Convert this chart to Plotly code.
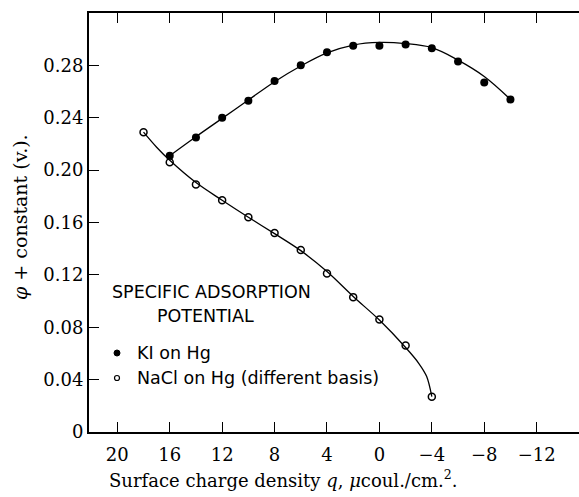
import plotly.graph_objects as go

# ---- data ----
ki_q = [16, 14, 12, 10, 8, 6, 4, 2, 0, -2, -4, -6, -8, -10]
ki_phi = [0.211, 0.225, 0.240, 0.253, 0.268, 0.280, 0.290, 0.295, 0.295,
          0.296, 0.293, 0.283, 0.267, 0.254]

nacl_q = [18, 16, 14, 12, 10, 8, 6, 4, 2, 0, -2, -4]
nacl_phi = [0.229, 0.206, 0.189, 0.177, 0.164, 0.152, 0.139, 0.121, 0.103,
            0.086, 0.066, 0.027]

# smooth curves drawn through the points
ki_curve_q = [16, 14, 12, 10, 8, 6, 4, 2, 0, -2, -4, -6, -8, -10]
ki_curve_phi = [0.211, 0.2255, 0.2395, 0.2535, 0.2675, 0.2795, 0.2895, 0.2955,
                0.2975, 0.2966, 0.2935, 0.2840, 0.2715, 0.2540]

nacl_curve_q = [18, 17, 16, 14, 12, 10, 8, 6, 4, 2, 0, -2, -3, -3.6, -4]
nacl_curve_phi = [0.229, 0.2175, 0.2075, 0.1905, 0.1770, 0.1640, 0.1515, 0.1385,
                  0.1225, 0.1035, 0.0855, 0.0645, 0.0525, 0.0425, 0.027]

x_ticks = [20, 16, 12, 8, 4, 0, -4, -8, -12]
x_ticktext = ["20", "16", "12", "8", "4", "0", "\u22124", "\u22128", "\u221212"]
y_ticks = [0, 0.04, 0.08, 0.12, 0.16, 0.20, 0.24, 0.28]
y_ticktext = ["0", "0.04", "0.08", "0.12", "0.16", "0.20", "0.24", "0.28"]

x_title = "Surface charge density <i>q</i>, <i>\u03bc</i>coul./cm.<sup>2</sup>."
y_title = "<i>\u03c6</i> + constant (v.)."

W, H = 579, 497
L, R, T, B = 89, 0, 13, 65
PW, PH = W - L - R, H - T - B


def px(x):
    return (x - L) / PW


def py(y):
    return (H - B - y) / PH


fig = go.Figure()
fig.add_trace(go.Scatter(x=ki_curve_q, y=ki_curve_phi, mode="lines",
                         line=dict(color="black", width=1.3, shape="spline", smoothing=1),
                         showlegend=False, hoverinfo="skip"))
fig.add_trace(go.Scatter(x=nacl_curve_q, y=nacl_curve_phi, mode="lines",
                         line=dict(color="black", width=1.3, shape="spline", smoothing=0.9),
                         showlegend=False, hoverinfo="skip"))
fig.add_trace(go.Scatter(x=ki_q, y=ki_phi, mode="markers", name="KI on Hg",
                         marker=dict(symbol="circle", size=8, color="black"),
                         showlegend=False))
fig.add_trace(go.Scatter(x=nacl_q, y=nacl_phi, mode="markers",
                         name="NaCl on Hg (different basis)",
                         marker=dict(symbol="circle-open", size=7, color="black",
                                     line=dict(width=1.5, color="black")),
                         showlegend=False))

serif = "DejaVu Serif"
sans = "DejaVu Sans"
LEG = 17.5

fig.update_layout(
    width=W, height=H,
    margin=dict(l=L, r=R, t=T, b=B, pad=0),
    paper_bgcolor="white", plot_bgcolor="white",
    font=dict(family=serif, color="black"),
    xaxis=dict(range=[22.16, -15.23], tickvals=x_ticks, ticktext=x_ticktext,
               ticks="inside", ticklen=10, tickwidth=1, tickcolor="black",
               showline=True, linewidth=2, linecolor="black", mirror="ticks",
               showgrid=False, zeroline=False, ticklabelstandoff=5,
               tickfont=dict(family=serif, size=18, color="black")),
    yaxis=dict(range=[0, 0.32], tickvals=y_ticks, ticktext=y_ticktext,
               ticks="inside", ticklen=10, tickwidth=1, tickcolor="black",
               showline=True, linewidth=2, linecolor="black", mirror=False,
               showgrid=False, zeroline=False,
               tickfont=dict(family=serif, size=18, color="black")),
)

ann = []
ann.append(dict(text=x_title,
                x=px(283.5), y=py(479), xref="paper", yref="paper",
                xanchor="center", yanchor="middle", showarrow=False,
                font=dict(family=serif, size=18, color="black")))
ann.append(dict(text=y_title,
                x=px(20), y=py(217), xref="paper", yref="paper", textangle=-90,
                xanchor="center", yanchor="middle", showarrow=False,
                font=dict(family=serif, size=19, color="black")))
ann.append(dict(text="SPECIFIC ADSORPTION", x=px(110), y=py(292), xref="paper", yref="paper",
                xanchor="left", yanchor="middle", showarrow=False,
                font=dict(family=sans, size=LEG, color="black")))
ann.append(dict(text="POTENTIAL", x=px(205), y=py(316), xref="paper", yref="paper",
                xanchor="center", yanchor="middle", showarrow=False,
                font=dict(family=sans, size=LEG, color="black")))
ann.append(dict(text="KI on Hg", x=px(135), y=py(353), xref="paper", yref="paper",
                xanchor="left", yanchor="middle", showarrow=False,
                font=dict(family=sans, size=LEG, color="black")))
ann.append(dict(text="NaCl on Hg (different basis)", x=px(135), y=py(378),
                xref="paper", yref="paper",
                xanchor="left", yanchor="middle", showarrow=False,
                font=dict(family=sans, size=LEG, color="black")))
fig.update_layout(annotations=ann)

# legend key symbols
fig.add_shape(type="circle", xref="paper", yref="paper",
              xsizemode="pixel", ysizemode="pixel",
              xanchor=px(117), yanchor=py(353), x0=-3, x1=3, y0=-3, y1=3,
              fillcolor="black", line=dict(color="black", width=1))
fig.add_shape(type="circle", xref="paper", yref="paper",
              xsizemode="pixel", ysizemode="pixel",
              xanchor=px(117), yanchor=py(378), x0=-2.5, x1=2.5, y0=-2.5, y1=2.5,
              fillcolor="white", line=dict(color="black", width=1.2))

fig.write_html("out.html")
